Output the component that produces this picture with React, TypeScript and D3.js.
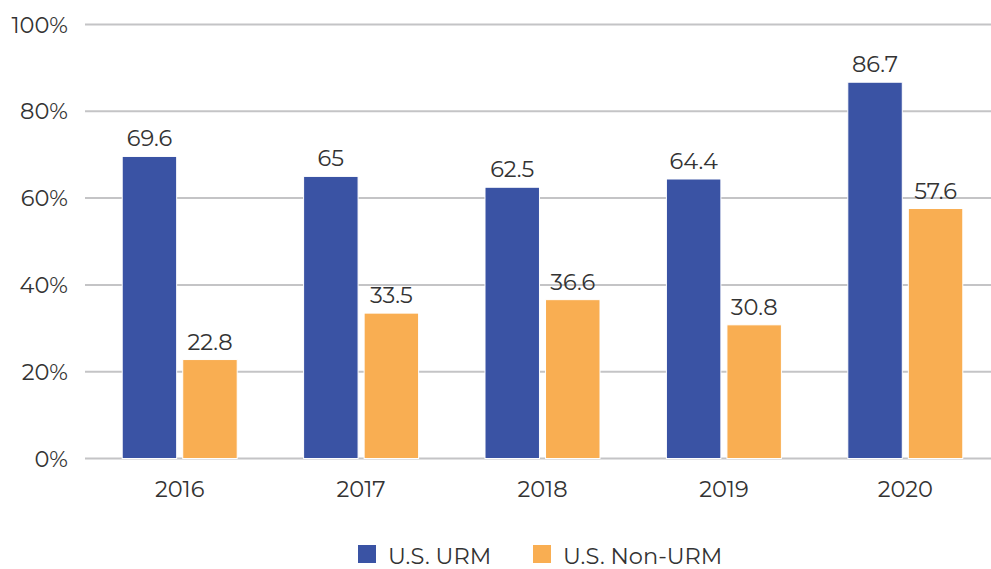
import React from "react";
import * as d3 from "d3";

const years = ["2016", "2017", "2018", "2019", "2020"];
const urm = [69.6, 65, 62.5, 64.4, 86.7];
const nonUrm = [22.8, 33.5, 36.6, 30.8, 57.6];
const yTicks = [0, 20, 40, 60, 80, 100];
const seriesNames = ["U.S. URM", "U.S. Non-URM"];
const colors = ["#3A53A4", "#F9AE52"];

const W = 991;
const H = 569;
const FONT = "Montserrat, 'Open Sans', Lato, sans-serif";
const TEXT = "#333333";
const FS = 22.5;

export default function App() {
  const x = d3.scaleBand().domain(years).range([89, 996]).paddingInner(0).paddingOuter(0);
  const y = d3.scaleLinear().domain([0, 100]).range([458.5, 24.5]);
  const inner = d3.scaleBand().domain(["0", "1"]).range([-57.5, 57.5]).paddingInner(0.1);
  const series = [urm, nonUrm];

  return (
    <svg width={W} height={H} style={{ position: "absolute", left: 0, top: 0, background: "#fff" }}>
      {yTicks.map((t) => (
        <g key={t}>
          <line x1={85} x2={W} y1={y(t)} y2={y(t)} stroke="#c4c4c6" strokeWidth={2} />
          <text x={68} y={y(t)} dy="0.36em" textAnchor="end" fontSize={FS} fontFamily={FONT} fill={TEXT}>
            {t}%
          </text>
        </g>
      ))}
      {years.map((yr, i) => {
        const cx = (x(yr) as number) + x.bandwidth() / 2;
        return (
          <g key={yr}>
            {series.map((s, k) => {
              const bx = cx + (inner(String(k)) as number);
              return (
                <g key={k}>
                  <rect
                    x={bx}
                    y={y(s[i])}
                    width={inner.bandwidth()}
                    height={y(0) - y(s[i])}
                    fill={colors[k]}
                    stroke="#ffffff"
                    strokeWidth={1}
                  />
                  <text
                    x={bx + inner.bandwidth() / 2}
                    y={y(s[i]) - 10}
                    textAnchor="middle"
                    fontSize={FS}
                    fontFamily={FONT}
                    fill={TEXT}
                  >
                    {s[i]}
                  </text>
                </g>
              );
            })}
            <text x={cx} y={497} textAnchor="middle" fontSize={FS} fontFamily={FONT} fill={TEXT}>
              {yr}
            </text>
          </g>
        );
      })}
      {seriesNames.map((n, k) => {
        const lx = k === 0 ? 358 : 533;
        return (
          <g key={n}>
            <rect x={lx} y={545} width={18} height={18} fill={colors[k]} />
            <text x={lx + 30} y={556} dy="0.36em" fontSize={FS} fontFamily={FONT} fill={TEXT}>
              {n}
            </text>
          </g>
        );
      })}
    </svg>
  );
}
